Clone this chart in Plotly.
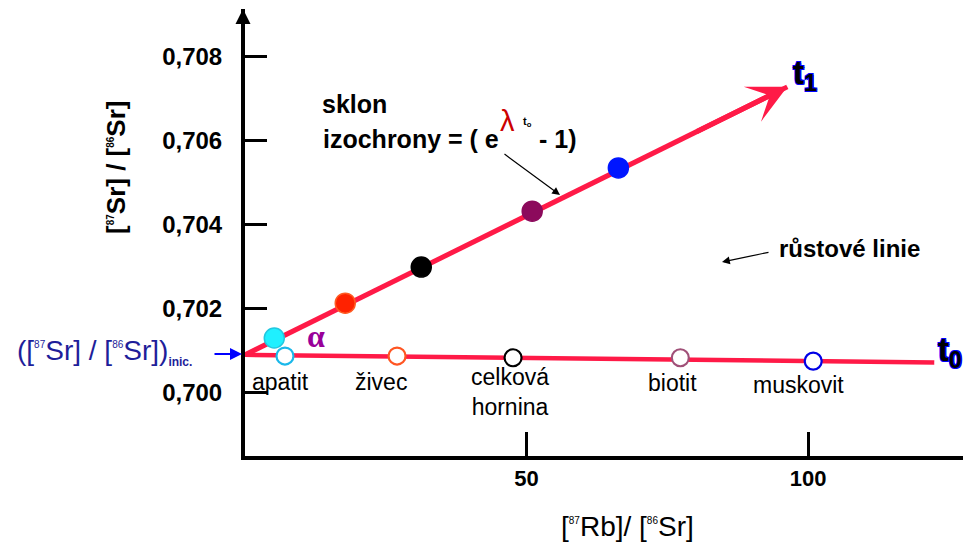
import plotly.graph_objects as go

# ---------------- data ----------------
minerals = ["apatit", "živec", "celková<br>hornina", "biotit", "muskovit"]
rb_sr_t1 = [5.2, 17.8, 31.3, 51.0, 66.3]
sr_sr_t1 = [0.70129, 0.70212, 0.70298, 0.70431, 0.70534]
rb_sr_t0 = [7.1, 27.0, 47.6, 77.3, 100.9]
sr_sr_t0 = [0.70086, 0.70086, 0.70082, 0.70082, 0.70074]
sr_initial = 0.70089
isochron_x = [0, 96.3]
isochron_y = [sr_initial, 0.70727]
t0_line_x = [0, 122.4]
t0_line_y = [sr_initial, 0.70071]
y_ticks = [0.700, 0.702, 0.704, 0.706, 0.708]
x_ticks = [50, 100]
x_range = [0, 127.5]
y_range = [0.698481, 0.709124]

fill_colors = ["#1ff0ff", "#ff2200", "#000000", "#8c0a5c", "#0016ff"]
edge_t1 = ["#22c8e0", "#ff5a22", "#000000", "#8c0a5c", "#0016ff"]
edge_t0 = ["#1ab8ea", "#ff5522", "#000000", "#a05078", "#0000e6"]
RED = "#ff1a47"
FONT = "Liberation Sans, Arial, sans-serif"

# plot area in pixels
L, R, T, B = 245, 963, 9, 456
W, H = 965, 543


def px(x):
    return (x - L) / (R - L)


def py(y):
    return (B - y) / (B - T)


fig = go.Figure()
fig.add_trace(go.Scatter(x=t0_line_x, y=t0_line_y, mode="lines",
                         line=dict(color=RED, width=4.5), hoverinfo="skip"))
fig.add_trace(go.Scatter(x=isochron_x, y=isochron_y, mode="lines",
                         line=dict(color=RED, width=5), hoverinfo="skip"))
fig.add_trace(go.Scatter(x=rb_sr_t0, y=sr_sr_t0, mode="markers",
                         marker=dict(size=17, color="white",
                                     line=dict(color=edge_t0, width=2.2))))
fig.add_trace(go.Scatter(x=rb_sr_t1, y=sr_sr_t1, mode="markers",
                         marker=dict(size=20, color=fill_colors,
                                     line=dict(color=edge_t1, width=1.5))))

ann = []
# red arrow head at end of isochron
ann.append(dict(x=isochron_x[1], y=isochron_y[1], xref="x", yref="y",
                ax=80, ay=isochron_y[0] + (isochron_y[1] - isochron_y[0]) * 80 / isochron_x[1],
                axref="x", ayref="y", showarrow=True, arrowhead=3, arrowsize=1.3,
                arrowwidth=5, arrowcolor=RED, text=""))
# y axis arrow
ann.append(dict(x=px(243), y=1, xref="paper", yref="paper", ax=0, ay=25, showarrow=True,
                arrowhead=2, arrowsize=1, arrowwidth=3, arrowcolor="black", text=""))
# blue arrow to initial ratio
ann.append(dict(x=px(242), y=py(354), xref="paper", yref="paper", ax=-29, ay=0,
                showarrow=True, arrowhead=2, arrowsize=1.2, arrowwidth=2,
                arrowcolor="#0000ff", text=""))
# arrow from slope text
ann.append(dict(x=px(560), y=py(195), xref="paper", yref="paper", ax=-57, ay=-42,
                showarrow=True, arrowhead=2, arrowsize=1.3, arrowwidth=1.2,
                arrowcolor="black", text=""))
# arrow from růstové linie
ann.append(dict(x=px(722), y=py(262), xref="paper", yref="paper", ax=48, ay=-10,
                showarrow=True, arrowhead=2, arrowsize=1.3, arrowwidth=1.2,
                arrowcolor="black", text=""))


def txt(x, y, text, size=23, color="black", xanchor="center", bold=False,
        family=FONT, angle=0, shadow=None):
    f = dict(family=family, size=size, color=color, weight=700 if bold else 400)
    if shadow:
        f["shadow"] = shadow
    ann.append(dict(x=px(x), y=py(y), xref="paper", yref="paper", text=text,
                    showarrow=False, xanchor=xanchor, yanchor="middle",
                    font=f, textangle=angle))


sup = lambda s: '<sup><span style="font-size:10px">%s</span></sup>' % s

txt(320, 104, "sklon", size=25, bold=True, xanchor="left")
txt(321, 139, "izochrony = ( e", size=25, bold=True, xanchor="left")
txt(507, 121, "λ", size=29, color="#cc0000")
txt(527, 122, "t<sub>o</sub>", size=11, bold=True)
txt(537, 139, "- 1)", size=25, bold=True, xanchor="left")
txt(777, 248, "růstové linie", size=24, bold=True, xanchor="left")
txt(316, 336, "α", size=32, color="#990099", bold=True,
    family="Liberation Serif, Times New Roman, serif")
txt(15, 352, "([" + sup("87") + "Sr] / [" + sup("86") + "Sr])" +
    '<sub><span style="font-size:12px;font-weight:bold">inic.</span></sub>',
    size=28, color="#1e1e9a", xanchor="left")
txt(116, 167, "[" + sup("87") + "Sr] / [" + sup("86") + "Sr]", size=26,
    bold=True, angle=-90)
txt(627, 526, "[" + sup("87") + "Rb]/ [" + sup("86") + "Sr]", size=28)

outline = ("1px 1px 0 #0000ff, -1px -1px 0 #0000ff, 1px -1px 0 #0000ff, "
           "-1px 1px 0 #0000ff")
txt(805, 75, "t<sub>1</sub>", size=33, bold=True, shadow=outline)
txt(950, 352, "t<sub>0</sub>", size=33, bold=True, shadow=outline)

label_pos = [(280, 382), (381, 382), (510, 392), (672, 383), (798, 385)]
for name, (lx, ly) in zip(minerals, label_pos):
    txt(lx, ly, name, size=23)

fig.update_layout(
    width=W, height=H,
    margin=dict(l=L, r=W - R, t=T, b=H - B),
    paper_bgcolor="white", plot_bgcolor="white",
    showlegend=False, separators=", ",
    annotations=ann,
    font=dict(family=FONT, color="black"),
    xaxis=dict(range=x_range, showgrid=False, zeroline=False, showline=True,
               linewidth=4, linecolor="black", ticks="inside", ticklen=24,
               tickwidth=3, tickcolor="black", tickvals=x_ticks,
               tickfont=dict(size=22, family=FONT, weight=700),
               ticklabelstandoff=0),
    yaxis=dict(range=y_range, showgrid=False, zeroline=False, showline=True,
               linewidth=4, linecolor="black", ticks="inside", ticklen=22,
               tickwidth=3, tickcolor="black", tickvals=y_ticks,
               tickformat=".3f",
               tickfont=dict(size=24, family=FONT, weight=700),
               ticklabelstandoff=14),
)

fig.write_html("out.html", config={"displayModeBar": False},
               post_script="document.body.style.margin='0';"
                           "document.body.style.overflow='hidden';")
